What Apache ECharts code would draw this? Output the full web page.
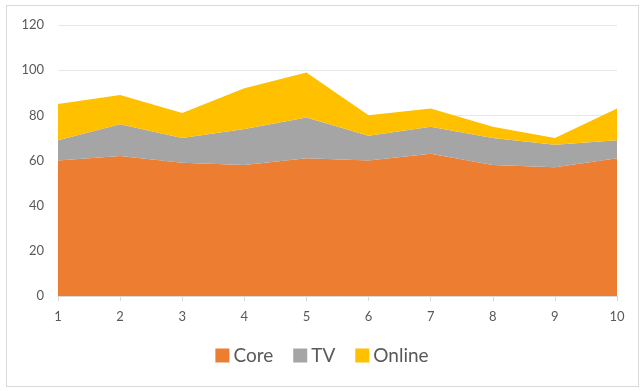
<!DOCTYPE html>
<html>
<head>
<meta charset="utf-8">
<script src="https://cdn.jsdelivr.net/npm/echarts@6/dist/echarts.min.js"></script>
<style>
  html, body { margin: 0; padding: 0; background: #fff; }
  #frame { position: absolute; left: 6px; top: 5px; width: 633px; height: 382px; border: 1px solid #d9d9d9; box-sizing: border-box; }
  #chart { position: absolute; left: 0; top: 0; width: 644px; height: 391px; }
</style>
</head>
<body>
<div id="frame"></div>
<div id="chart"></div>
<script>
// Periods along the x axis
const categories = ['1', '2', '3', '4', '5', '6', '7', '8', '9', '10'];
// Stacked components per period
const core = [60, 62, 59, 58, 61, 60, 63, 58, 57, 61];
const tv = [9, 14, 11, 16, 18, 11, 12, 12, 10, 8];
const online = [16, 13, 11, 18, 20, 9, 8, 5, 3, 14];
const seriesNames = ['Core', 'TV', 'Online'];
const colors = ['#ED7D31', '#A5A5A5', '#FFC000'];

const font = 'Lato, "Open Sans", sans-serif';

function areaSeries(name, data, color) {
  return {
    name: name,
    type: 'line',
    stack: 'total',
    data: data,
    symbol: 'none',
    lineStyle: { width: 0 },
    areaStyle: { color: color, opacity: 1 },
    itemStyle: { color: color },
    emphasis: { disabled: true }
  };
}

const chart = echarts.init(document.getElementById('chart'), null, { renderer: 'canvas' });
chart.setOption({
  animation: false,
  color: colors,
  grid: { left: 58, right: 27, top: 25, bottom: 95 },
  legend: {
    bottom: 21,
    left: 'center',
    icon: 'rect',
    itemWidth: 14,
    itemHeight: 14,
    itemGap: 20,
    textStyle: { color: '#595959', fontSize: 19, fontFamily: font, padding: [0, 0, 0, -1] },
    data: seriesNames
  },
  xAxis: {
    type: 'category',
    data: categories,
    boundaryGap: false,
    axisLine: { show: true, lineStyle: { color: '#d9d9d9' } },
    axisTick: { show: true, length: 5, lineStyle: { color: '#d9d9d9' } },
    axisLabel: { color: '#595959', fontSize: 13, fontFamily: font, margin: 14 }
  },
  yAxis: {
    type: 'value',
    min: 0,
    max: 120,
    interval: 20,
    axisLine: { show: false },
    axisTick: { show: false },
    axisLabel: { color: '#595959', fontSize: 13, fontFamily: font, margin: 14 },
    splitLine: { lineStyle: { color: '#e6e6e6' } }
  },
  series: [
    areaSeries(seriesNames[0], core, colors[0]),
    areaSeries(seriesNames[1], tv, colors[1]),
    areaSeries(seriesNames[2], online, colors[2])
  ]
});
</script>
</body>
</html>
